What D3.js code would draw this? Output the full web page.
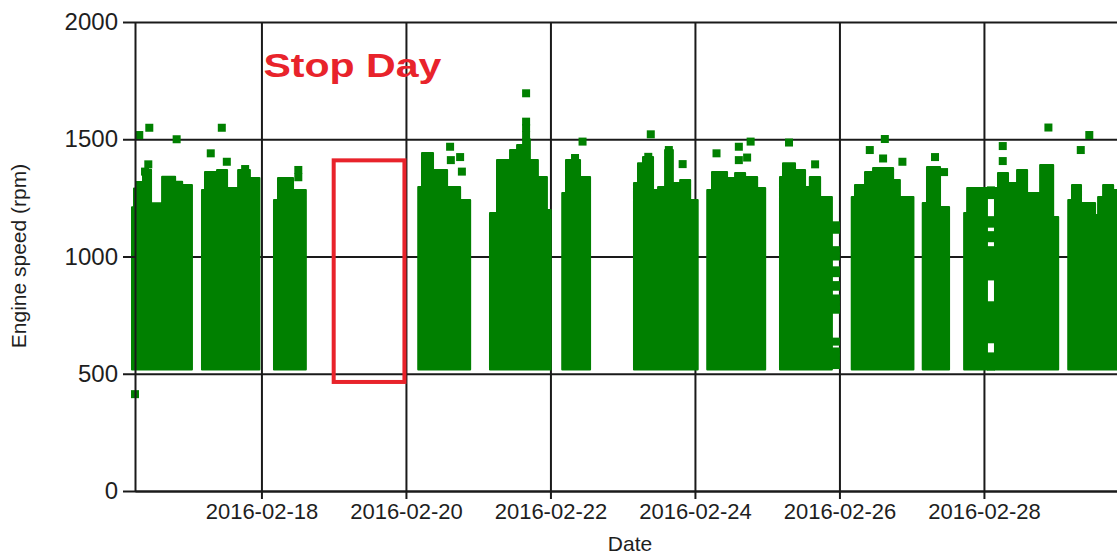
<!DOCTYPE html>
<html lang="en">
<head>
<meta charset="utf-8">
<title>Engine speed by date</title>
<style>
body {
  margin: 0;
  background: #fff;
}
svg {
  display: block;
  font-family: "Liberation Sans", Arial, sans-serif;
}
.grid line {
  stroke: #1a1a1a;
  stroke-width: 2;
}
.axis path, .axis line {
  stroke: #1a1a1a;
  stroke-width: 2;
}
.axis text {
  fill: #1e1e1e;
}
</style>
</head>
<body>
<div id="chart"></div>
<script src="https://cdn.jsdelivr.net/npm/d3@7"></script>
<script>
var xTicks = ["2016-02-18", "2016-02-20", "2016-02-22", "2016-02-24", "2016-02-26", "2016-02-28"];
var yTicks = [0, 500, 1000, 1500, 2000];

// lowest speed seen while running (bottom of every block)
var idleRpm = 518;

// running blocks: [time, highest rpm from that time on]; the last row closes the block
var blocks = [
  [["2016-02-16 05:00", 1210], ["2016-02-16 05:40", 1290], ["2016-02-16 06:20", 1318], ["2016-02-16 08:40", 1370],
   ["2016-02-16 11:20", 1227], ["2016-02-16 15:00", 1340], ["2016-02-16 19:20", 1319], ["2016-02-16 21:40", 1305],
   ["2016-02-17 00:55", 1305]],
  [["2016-02-17 04:15", 1284], ["2016-02-17 05:15", 1360], ["2016-02-17 09:15", 1369], ["2016-02-17 12:35", 1292],
   ["2016-02-17 16:15", 1369], ["2016-02-17 20:10", 1335], ["2016-02-17 23:20", 1335]],
  [["2016-02-18 04:10", 1241], ["2016-02-18 05:30", 1335], ["2016-02-18 10:30", 1284], ["2016-02-18 14:45", 1284]],
  [["2016-02-20 04:05", 1296], ["2016-02-20 05:20", 1441], ["2016-02-20 09:00", 1369], ["2016-02-20 13:40", 1296],
   ["2016-02-20 18:00", 1241], ["2016-02-20 21:20", 1241]],
  [["2016-02-21 03:55", 1185], ["2016-02-21 06:15", 1411], ["2016-02-21 10:35", 1454], ["2016-02-21 12:55", 1475],
   ["2016-02-21 14:55", 1500], ["2016-02-21 17:10", 1411], ["2016-02-21 19:50", 1339], ["2016-02-21 22:50", 1198],
   ["2016-02-22 00:05", 1198]],
  [["2016-02-22 03:55", 1271], ["2016-02-22 05:10", 1411], ["2016-02-22 09:50", 1339], ["2016-02-22 13:10", 1339]],
  [["2016-02-23 03:45", 1313], ["2016-02-23 05:05", 1398], ["2016-02-23 06:45", 1424], ["2016-02-23 10:05", 1284],
   ["2016-02-23 11:45", 1296], ["2016-02-23 14:05", 1454], ["2016-02-23 16:40", 1313], ["2016-02-23 19:05", 1326],
   ["2016-02-23 22:25", 1241], ["2016-02-24 00:55", 1241]],
  [["2016-02-24 04:05", 1284], ["2016-02-24 05:40", 1360], ["2016-02-24 10:40", 1335], ["2016-02-24 13:20", 1356],
   ["2016-02-24 16:40", 1339], ["2016-02-24 20:40", 1292], ["2016-02-24 23:20", 1292]],
  [["2016-02-25 04:15", 1339], ["2016-02-25 05:15", 1398], ["2016-02-25 09:15", 1369], ["2016-02-25 12:35", 1296],
   ["2016-02-25 14:10", 1339], ["2016-02-25 17:35", 1254], ["2016-02-25 21:30", 1254]],
  [["2016-02-26 04:05", 1254], ["2016-02-26 05:10", 1305], ["2016-02-26 08:30", 1360], ["2016-02-26 11:10", 1377],
   ["2016-02-26 17:50", 1326], ["2016-02-26 20:05", 1254], ["2016-02-27 00:35", 1254]],
  [["2016-02-27 03:40", 1228], ["2016-02-27 05:05", 1382], ["2016-02-27 09:25", 1211], ["2016-02-27 12:25", 1211]],
  [["2016-02-27 17:25", 1185], ["2016-02-27 18:25", 1292], ["2016-02-28 01:00", 1292]],
  [["2016-02-28 03:40", 1292], ["2016-02-28 04:40", 1356], ["2016-02-28 08:00", 1313], ["2016-02-28 11:00", 1369],
   ["2016-02-28 14:20", 1271], ["2016-02-28 18:40", 1390], ["2016-02-28 23:00", 1168], ["2016-02-29 00:40", 1168]],
  [["2016-02-29 04:00", 1241], ["2016-02-29 05:15", 1305], ["2016-02-29 08:15", 1228], ["2016-02-29 12:55", 1177],
   ["2016-02-29 13:55", 1254], ["2016-02-29 15:35", 1305], ["2016-02-29 18:55", 1284], ["2016-02-29 23:00", 1284]]
];

// single readings that stand out of the blocks
var outliers = [
  ["2016-02-16 06:00", 413], ["2016-02-16 07:25", 1518], ["2016-02-16 10:45", 1549], ["2016-02-16 19:50", 1500],
  ["2016-02-16 10:25", 1393], ["2016-02-16 09:20", 1362],
  ["2016-02-17 10:50", 1549], ["2016-02-17 07:10", 1440], ["2016-02-17 12:30", 1404], ["2016-02-17 18:35", 1373],
  ["2016-02-18 12:15", 1369], ["2016-02-18 12:15", 1338],
  ["2016-02-20 14:40", 1468], ["2016-02-20 18:00", 1424], ["2016-02-20 18:35", 1362], ["2016-02-20 14:55", 1411],
  ["2016-02-21 15:55", 1696], ["2016-02-21 15:55", 1575], ["2016-02-21 15:55", 1548], ["2016-02-21 15:55", 1518],
  ["2016-02-22 08:10", 1420], ["2016-02-22 10:40", 1490],
  ["2016-02-23 09:20", 1521], ["2016-02-23 08:30", 1425], ["2016-02-23 15:20", 1454], ["2016-02-23 19:55", 1394],
  ["2016-02-23 15:20", 1411],
  ["2016-02-24 07:10", 1440], ["2016-02-24 14:35", 1468], ["2016-02-24 18:30", 1490], ["2016-02-24 17:20", 1422],
  ["2016-02-24 14:35", 1411],
  ["2016-02-25 07:15", 1486], ["2016-02-25 15:55", 1393],
  ["2016-02-26 15:05", 1501], ["2016-02-26 10:05", 1454], ["2016-02-26 14:30", 1418], ["2016-02-26 20:55", 1404],
  ["2016-02-27 07:45", 1424], ["2016-02-27 10:45", 1360],
  ["2016-02-28 06:15", 1471], ["2016-02-28 06:15", 1407], ["2016-02-28 21:25", 1550],
  ["2016-02-29 11:00", 1518], ["2016-02-29 08:10", 1454]
];

// thin columns where the readings are sparse
var sparseTimes = ["2016-02-25 22:50", "2016-02-28 02:20"];
var sparseRpm = [
  [1133, 1114, 1027, 1000, 941, 929, 878, 871, 821, 792, 773, 637, 595, 566, 537],
  [1282, 1262, 1155, 1140, 1091, 1078, 1027, 998, 969, 940, 915, 792, 763, 734, 705, 676, 647, 574, 545, 530]
];

var stopDay = ["2016-02-19 00:00", "2016-02-19 23:30"];
var stopRpm = [465, 1410];

var green = "#008000";
var red = "#e8232b";
var W = 1117, H = 556;
var plotLeft = 135, plotTop = 22, plotBottom = 491;

var parse = d3.timeParse("%Y-%m-%d %H:%M");
var parseDay = d3.timeParse("%Y-%m-%d");

var svg = d3.select("#chart").append("svg")
  .attr("width", W)
  .attr("height", H);

var x = d3.scaleTime()
  .domain([parse("2016-02-16 06:00"), parse("2016-03-01 06:00")])
  .range([plotLeft, plotLeft + 14 * 72.25]);
var y = d3.scaleLinear()
  .domain([0, 2000])
  .range([plotBottom, plotTop]);

// grid under the points
svg.append("g")
  .attr("class", "grid")
  .attr("transform", `translate(0, ${plotBottom})`)
  .call(d3.axisBottom(x).tickValues(xTicks.map(parseDay)).tickSize(-(plotBottom - plotTop)).tickFormat(""))
  .call(g => g.select(".domain").remove());
svg.append("g")
  .attr("class", "grid")
  .attr("transform", `translate(${plotLeft}, 0)`)
  .call(d3.axisLeft(y).tickValues(yTicks).tickSize(-(W - plotLeft)).tickFormat(""))
  .call(g => g.select(".domain").remove());

var area = d3.area()
  .curve(d3.curveStepAfter)
  .x(d => x(parse(d[0])))
  .y0(y(idleRpm))
  .y1(d => y(d[1]));

svg.append("g").selectAll("path").data(blocks)
  .enter().append("path")
  .attr("d", area)
  .attr("fill", green)
  .attr("stroke", green)
  .attr("stroke-width", 2)
  .attr("stroke-linejoin", "round");

var pts = outliers.slice();
sparseTimes.forEach((t, i) => sparseRpm[i].forEach(r => pts.push([t, r])));

var sq = 8;
svg.append("g").selectAll("rect").data(pts)
  .enter().append("rect")
  .attr("x", d => x(parse(d[0])) - sq / 2)
  .attr("y", d => y(d[1]) - sq / 2)
  .attr("width", sq)
  .attr("height", sq)
  .attr("fill", green);

// axes on top
var yAxis = svg.append("g")
  .attr("class", "axis")
  .attr("transform", `translate(${plotLeft}, 0)`)
  .call(d3.axisLeft(y).tickValues(yTicks).tickFormat(d3.format("d"))
    .tickSize(12).tickSizeOuter(0).tickPadding(5));
yAxis.selectAll("text").style("font-size", "24px");

var xAxis = svg.append("g")
  .attr("class", "axis")
  .attr("transform", `translate(0, ${plotBottom})`)
  .call(d3.axisBottom(x).tickValues(xTicks.map(parseDay))
    .tickFormat(d3.timeFormat("%Y-%m-%d")).tickSize(8).tickSizeOuter(0).tickPadding(4));
xAxis.selectAll("text").style("font-size", "22px");

svg.append("text")
  .attr("transform", "translate(26, 256) rotate(-90)")
  .attr("text-anchor", "middle")
  .style("font-size", "21px")
  .attr("fill", "#1e1e1e")
  .text("Engine speed (rpm)");

svg.append("text")
  .attr("x", 630)
  .attr("y", 551)
  .attr("text-anchor", "middle")
  .style("font-size", "21px")
  .attr("fill", "#1e1e1e")
  .text("Date");

// stop day annotation
svg.append("rect")
  .attr("x", x(parse(stopDay[0])))
  .attr("y", y(stopRpm[1]))
  .attr("width", x(parse(stopDay[1])) - x(parse(stopDay[0])))
  .attr("height", y(stopRpm[0]) - y(stopRpm[1]))
  .attr("fill", "none")
  .attr("stroke", red)
  .attr("stroke-width", 4);

svg.append("text")
  .attr("x", x(parseDay("2016-02-18")) + 2)
  .attr("y", y(1765))
  .attr("fill", red)
  .attr("textLength", 178)
  .attr("lengthAdjust", "spacingAndGlyphs")
  .style("font-size", "33px")
  .style("font-weight", "bold")
  .text("Stop Day");
</script>
</body>
</html>
